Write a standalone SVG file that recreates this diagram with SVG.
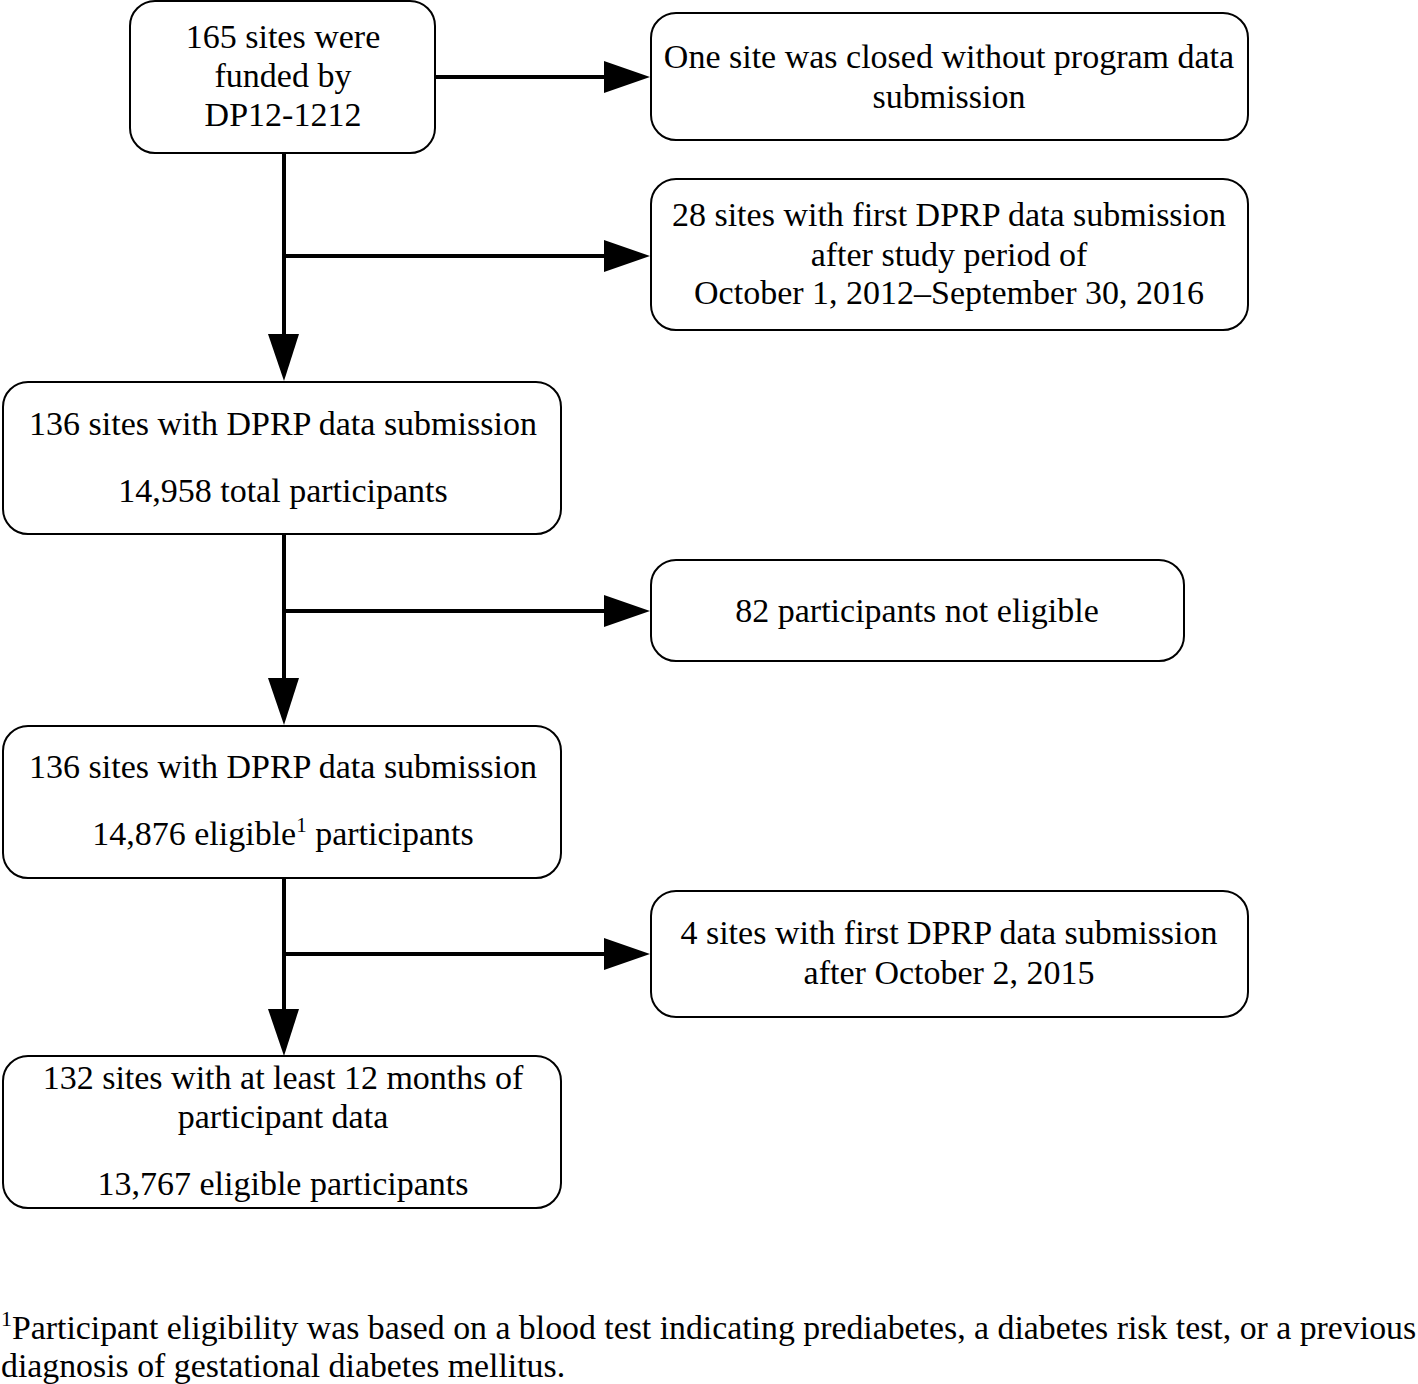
<svg xmlns="http://www.w3.org/2000/svg" width="1418" height="1384" viewBox="0 0 1418 1384">
<style>
.box{fill:#fff;stroke:#000;stroke-width:2}
.t{font-family:"Liberation Serif","Times New Roman",serif;font-size:34px;fill:#000;text-anchor:middle}
.f{font-family:"Liberation Serif","Times New Roman",serif;font-size:33.8px;fill:#000}
.ln{stroke:#000;stroke-width:4;fill:none}
.ah{fill:#000}
</style>
<rect width="1418" height="1384" fill="#fff"/>
<g id="connectors">
<line class="ln" x1="284" y1="153" x2="284" y2="340"/>
<polygon class="ah" points="268,334 299,334 284,381"/>
<line class="ln" x1="434" y1="77" x2="610" y2="77"/>
<polygon class="ah" points="604,61 650,77 604,93"/>
<line class="ln" x1="284" y1="256" x2="610" y2="256"/>
<polygon class="ah" points="604,240 650,256 604,272"/>
<line class="ln" x1="284" y1="534" x2="284" y2="684"/>
<polygon class="ah" points="268,678 299,678 284,725"/>
<line class="ln" x1="284" y1="611" x2="610" y2="611"/>
<polygon class="ah" points="604,595 650,611 604,627"/>
<line class="ln" x1="284" y1="878" x2="284" y2="1015"/>
<polygon class="ah" points="268,1009 299,1009 284,1056"/>
<line class="ln" x1="284" y1="954" x2="610" y2="954"/>
<polygon class="ah" points="604,938 650,954 604,970"/>
</g>
<g id="n1">
<rect class="box" x="130" y="1" width="305" height="152" rx="25"/>
<text class="t" x="283" y="48">165 sites were</text>
<text class="t" x="283" y="87">funded by</text>
<text class="t" x="283" y="126">DP12-1212</text>
</g>
<g id="n2">
<rect class="box" x="651" y="13" width="597" height="127" rx="25"/>
<text class="t" x="949" y="68">One site was closed without program data</text>
<text class="t" x="949" y="108">submission</text>
</g>
<g id="n3">
<rect class="box" x="651" y="179" width="597" height="151" rx="25"/>
<text class="t" x="949" y="226">28 sites with first DPRP data submission</text>
<text class="t" x="949" y="266">after study period of</text>
<text class="t" x="949" y="304">October 1, 2012–September 30, 2016</text>
</g>
<g id="n4">
<rect class="box" x="3" y="382" width="558" height="152" rx="25"/>
<text class="t" x="283" y="435">136 sites with DPRP data submission</text>
<text class="t" x="283" y="502">14,958 total participants</text>
</g>
<g id="n5">
<rect class="box" x="651" y="560" width="533" height="101" rx="25"/>
<text class="t" x="917" y="622">82 participants not eligible</text>
</g>
<g id="n6">
<rect class="box" x="3" y="726" width="558" height="152" rx="25"/>
<text class="t" x="283" y="778">136 sites with DPRP data submission</text>
<text class="t" x="283" y="845">14,876 eligible<tspan font-size="21" dy="-13">1</tspan><tspan dy="13"> participants</tspan></text>
</g>
<g id="n7">
<rect class="box" x="651" y="891" width="597" height="126" rx="25"/>
<text class="t" x="949" y="944">4 sites with first DPRP data submission</text>
<text class="t" x="949" y="984">after October 2, 2015</text>
</g>
<g id="n8">
<rect class="box" x="3" y="1056" width="558" height="152" rx="25"/>
<text class="t" x="283" y="1089">132 sites with at least 12 months of</text>
<text class="t" x="283" y="1128">participant data</text>
<text class="t" x="283" y="1195">13,767 eligible participants</text>
</g>
<g id="footnote">
<text class="f" x="1" y="1339"><tspan font-size="22" dy="-13">1</tspan><tspan dy="13">Participant eligibility was based on a blood test indicating prediabetes, a diabetes risk test, or a previous</tspan></text>
<text class="f" x="1" y="1377">diagnosis of gestational diabetes mellitus.</text>
</g>
</svg>
